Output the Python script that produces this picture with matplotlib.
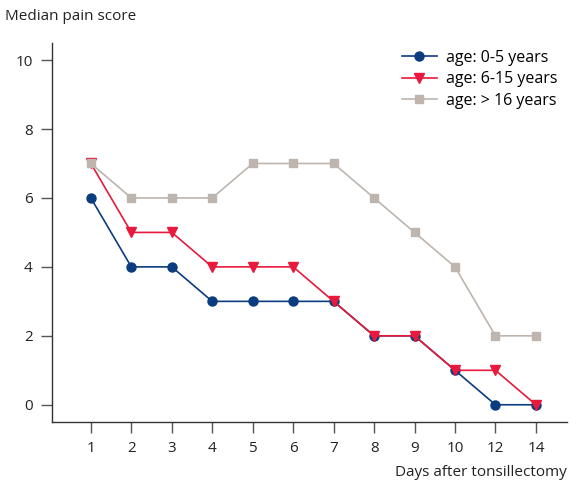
import matplotlib.pyplot as plt
import numpy as np

days = ['1', '2', '3', '4', '5', '6', '7', '8', '9', '10', '12', '14']
age_0_5 = [6, 4, 4, 3, 3, 3, 3, 2, 2, 1, 0, 0]
age_6_15 = [7, 5, 5, 4, 4, 4, 3, 2, 2, 1, 1, 0]
age_16 = [7, 6, 6, 6, 7, 7, 7, 6, 5, 4, 2, 2]

plt.rcParams['font.family'] = ['Open Sans', 'DejaVu Sans']

fig = plt.figure(figsize=(5.8, 4.83), dpi=100)
ax = fig.add_axes([0.0897, 0.1263, 0.888, 0.785])

x = np.arange(len(days))
ax.plot(x, age_0_5, '-o', color='#0b3c7f', lw=1.2, ms=6.5, label='age: 0-5 years', zorder=3)
ax.plot(x, age_6_15, '-v', color='#e8193c', lw=1.2, ms=6.5, label='age: 6-15 years', zorder=4)
ax.plot(x, age_16, '-s', color='#bdb5ae', lw=1.2, ms=5.5, label='age: > 16 years', zorder=5)

ax.set_xlim(-0.96, 11.77)
ax.set_ylim(-0.5, 10.5)
ax.set_xticks(x)
ax.set_xticklabels(days)
ax.set_yticks([0, 2, 4, 6, 8, 10])

for s in ['top', 'right']:
    ax.spines[s].set_visible(False)
for s in ['left', 'bottom']:
    ax.spines[s].set_color('#333333')
    ax.spines[s].set_linewidth(1.0)
ax.tick_params(direction='out', length=8, width=1, color='#555555',
               labelsize=11, labelcolor='#222222', pad=6)

fig.text(0.008, 0.965, 'Median pain score', fontsize=11, color='#222222', va='center')
fig.text(0.978, 0.022, 'Days after tonsillectomy', fontsize=11, color='#222222',
         ha='right', va='center')

ax.legend(loc='upper right', bbox_to_anchor=(1.01, 1.02), frameon=False, fontsize=11.5,
          handlelength=2.2, labelspacing=0.35, handletextpad=0.6)

fig.savefig('out.png', dpi=100)
